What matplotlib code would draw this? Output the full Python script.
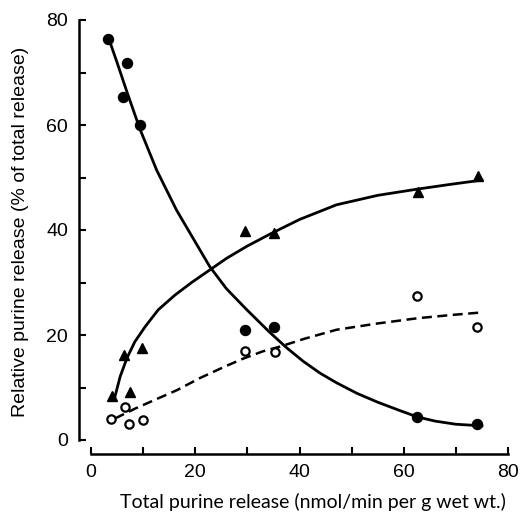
import matplotlib
matplotlib.use("Agg")
import matplotlib.pyplot as plt

# 데이터
# filled circles
circ_x = [3.3, 6.1, 7.0, 9.4, 29.5, 35.2, 62.6, 74.1]
circ_y = [76.4, 65.3, 71.9, 60.0, 21.0, 21.6, 4.4, 3.0]
# filled triangles
tri_x = [4.0, 6.4, 7.5, 9.7, 29.5, 35.2, 62.7, 74.2]
tri_y = [8.3, 16.2, 9.1, 17.5, 39.9, 39.5, 47.3, 50.3]
# open circles
open_x = [3.8, 6.5, 7.3, 9.9, 29.5, 35.3, 62.5, 74.1]
open_y = [4.0, 6.2, 3.0, 3.9, 17.0, 16.8, 27.5, 21.5]

# fitted curves
fit1_x = [3.5, 5.0, 7.0, 9.4, 12.6, 16.4, 20.9, 22.8, 26.0, 29.9, 34.3, 37.5,
          40.7, 44.0, 47.1, 51.0, 55.0, 59.0, 62.6, 66.0, 70.0, 75.0]
fit1_y = [76.2, 71.9, 66.0, 59.2, 51.4, 43.8, 36.2, 33.0, 28.8, 24.8, 20.5, 17.6,
          15.0, 12.7, 10.9, 8.9, 7.2, 5.7, 4.4, 3.6, 3.0, 2.7]
fit2_x = [4.5, 5.6, 6.9, 8.4, 10.4, 12.9, 16.1, 19.3, 22.8, 26.0, 29.9, 34.3,
          40.0, 47.1, 55.0, 62.7, 69.0, 75.0]
fit2_y = [7.9, 12.1, 15.6, 18.7, 21.6, 24.8, 27.6, 30.0, 32.4, 34.6, 36.9, 39.2,
          42.0, 44.8, 46.6, 47.8, 48.7, 49.5]
fit3_x = [4.6, 8.5, 12.6, 16.5, 20.9, 25.7, 29.2, 33.0, 36.3, 41.0, 47.1,
          55.0, 62.7, 69.0, 75.0]
fit3_y = [4.1, 6.0, 7.8, 9.5, 11.8, 14.0, 15.5, 16.9, 17.8, 19.3, 21.0,
          22.2, 23.2, 23.8, 24.3]

fig = plt.figure(figsize=(5.32, 5.16), dpi=100)
ax = fig.add_axes([91 / 532, 76 / 516, 417 / 532, 420 / 516])

ax.plot(fit1_x, fit1_y, color='black', lw=2.0, solid_joinstyle='round')
ax.plot(fit2_x, fit2_y, color='black', lw=2.0, solid_joinstyle='round')
ax.plot(fit3_x, fit3_y, color='black', lw=1.8, dashes=(4.0, 2.2))

ax.plot(circ_x, circ_y, 'o', color='black', ms=7.2, clip_on=False)
ax.plot(tri_x, tri_y, '^', color='black', ms=7.8, clip_on=False)
ax.plot(open_x, open_y, 'o', mfc='white', mec='black', mew=1.6, ms=6.0,
        clip_on=False)

ax.set_xlim(0, 80)
ax.set_ylim(0, 80)
ax.set_xticks(range(0, 81, 20))
ax.set_xticks(range(10, 80, 20), minor=True)
ax.set_yticks(range(0, 81, 20))
ax.set_yticks(range(10, 80, 20), minor=True)

for side in ['top', 'right']:
    ax.spines[side].set_visible(False)
ax.spines['left'].set_position(('outward', 8.6))
ax.spines['bottom'].set_position(('outward', 10))
ax.spines['left'].set_linewidth(1.8)
ax.spines['bottom'].set_linewidth(1.8)

ax.tick_params(which='both', direction='in', length=5, width=1.5,
               labelsize=14, colors='black')
ax.tick_params(axis='y', which='major', pad=8)
ax.tick_params(axis='x', which='major', pad=7)
for lab in ax.get_xticklabels() + ax.get_yticklabels():
    lab.set_family('Liberation Sans')

ax.set_xlabel('Total purine release (nmol/min per g wet wt.)',
              fontsize=14, family='Lato')
ax.xaxis.set_label_coords(0.532, -0.125)
ax.set_ylabel('Relative purine release (% of total release)',
              fontsize=14, family='Liberation Sans')
ax.yaxis.set_label_coords(-0.148, 0.495)

fig.savefig('out.png', dpi=100)
